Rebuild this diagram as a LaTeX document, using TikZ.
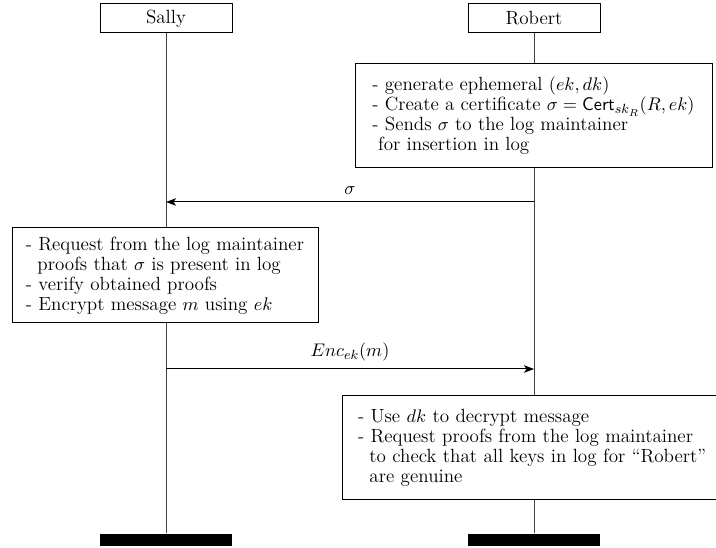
\documentclass[tikz,border=0pt]{standalone}
\usetikzlibrary{arrows.meta}

\tikzset{every picture/.style={line width=0.6pt}}
\tikzset{
  every node/.style={font=\fontsize{11.45}{12}\selectfont},
  actor/.style={draw, minimum width=79.2pt, minimum height=17.4pt, inner sep=0pt},
  stepbox/.style={draw, align=left, inner sep=0pt, fill=white},
  endbar/.style={fill=black, minimum width=79.2pt, minimum height=7.2pt, inner sep=0pt},
  lifeline/.style={draw=black!75},
  msg/.style={-{Stealth[length=6pt,width=4.5pt,inset=1.5pt]}}
}

\begin{document}
\begin{tikzpicture}[x=0.6pt,y=0.6pt,yscale=-1,xscale=1]
		\useasboundingbox (0,0) rectangle (716,548);
		
		% Heads
		\node [actor] (sally) at (166,18.5) {Sally};
		\node [actor] (robert) at (534,18.5) {Robert};
		
		% Robert: create certificate
		\node [stepbox, minimum width=214.2pt, minimum height=62.4pt] (rgen) at (533.5,116) {%
			- generate ephemeral $(ek,dk)$\\
			- Create a certificate $\sigma=\mathsf{Cert}_{sk_R}(R,ek)$\\
			- Sends $\sigma$ to the log maintainer\\
			\hspace{0.3em}for insertion in log};
		
		% Sally: check and encrypt
		\node [stepbox, minimum width=183.6pt, minimum height=57pt] (sbox) at (165,275.5) {%
			- Request from the log maintainer\\
			\hspace{0.6em}proofs that $\sigma$ is present in log\\
			- verify obtained proofs\\
			- Encrypt message $m$ using $ek$};
		
		% Robert: decrypt
		\node [stepbox, inner xsep=9.6pt, text width=211.2pt, minimum height=62.4pt] (ruse) at (534,448) {%
			- Use $dk$ to decrypt message\\
			- Request proofs from the log maintainer\\
			\hspace{0.6em}to check that all keys in log for ``Robert''\\
			\hspace{0.6em}are genuine};
		
		% Ends
		\node [endbar] (send) at (166,540) {};
		\node [endbar] (rend) at (534,540) {};
		
		%Straight Lines (lifelines)
		\draw [lifeline] (sally.south) -- (sally.south |- sbox.north);
		\draw [lifeline] (sally.south |- sbox.south) -- (send.north);
		\draw [lifeline] (robert.south) -- (robert.south |- rgen.north);
		\draw [lifeline] (robert.south |- rgen.south) -- (robert.south |- ruse.north);
		\draw [lifeline] (robert.south |- ruse.south) -- (rend.north);
		
		%Messages
		\coordinate (sigR) at (534,202);
		\coordinate (sigS) at (166,202);
		\coordinate (encS) at (166,369);
		\coordinate (encR) at (534,369);
		\draw [msg] (sigR) -- node [above=1pt, pos=0.5] (siglab) {$\sigma$} (sigS);
		\draw [msg] (encS) -- node [above=1pt, pos=0.5] (enclab) {$Enc_{ek}(m)$} (encR);
		
\end{tikzpicture}
\end{document}
